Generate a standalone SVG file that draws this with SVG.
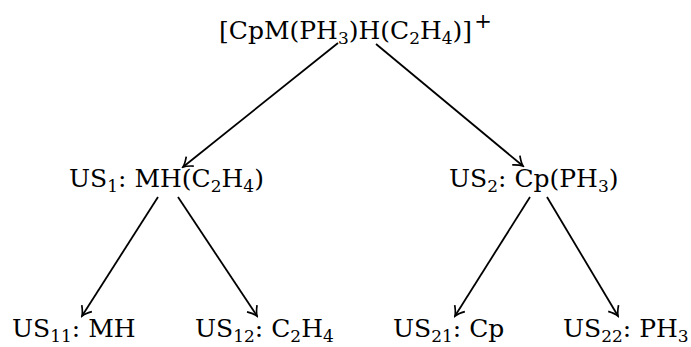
<svg xmlns="http://www.w3.org/2000/svg" width="691" height="347" viewBox="0 0 691 347">
<style>
text{font-family:"DejaVu Serif","Liberation Serif",serif;font-size:25px;fill:#000}
.s{font-size:17px}
.p{font-size:21px}
.c{stroke:#000;stroke-width:1.8;fill:none}
</style>
<defs>
<marker id="ah" viewBox="-12 -7 14 14" refX="0" refY="0" markerWidth="14" markerHeight="14" markerUnits="userSpaceOnUse" orient="auto">
<path d="M-9,-6 Q-3.5,-1.2 0,0 Q-3.5,1.2 -9,6" fill="none" stroke="#000" stroke-width="1.7"/>
</marker>
</defs>
<rect width="691" height="347" fill="#fff"/>
<g id="connectors">
<line class="c" x1="338" y1="43" x2="183" y2="167" marker-end="url(#ah)"/>
<line class="c" x1="376" y1="44" x2="523" y2="166" marker-end="url(#ah)"/>
<line class="c" x1="158" y1="197" x2="82" y2="316" marker-end="url(#ah)"/>
<line class="c" x1="178" y1="197" x2="257" y2="316" marker-end="url(#ah)"/>
<line class="c" x1="530" y1="197" x2="455" y2="316" marker-end="url(#ah)"/>
<line class="c" x1="547" y1="197" x2="618" y2="316" marker-end="url(#ah)"/>
</g>
<g id="root"><text x="219" y="39">[CpM(PH<tspan class="s" dy="5">3</tspan><tspan dy="-5">)H(C</tspan><tspan class="s" dy="5">2</tspan><tspan dy="-5">H</tspan><tspan class="s" dy="5">4</tspan><tspan dy="-5">)]</tspan><tspan class="p" dx="2" dy="-11">+</tspan></text></g>
<g id="us1"><text x="69" y="187">US<tspan class="s" dy="5">1</tspan><tspan dy="-5">: MH(C</tspan><tspan class="s" dy="5">2</tspan><tspan dy="-5">H</tspan><tspan class="s" dy="5">4</tspan><tspan dy="-5">)</tspan></text></g>
<g id="us2"><text x="449" y="187">US<tspan class="s" dy="5">2</tspan><tspan dy="-5">: Cp(PH</tspan><tspan class="s" dy="5">3</tspan><tspan dy="-5">)</tspan></text></g>
<g id="us11"><text x="12" y="337">US<tspan class="s" dy="5">11</tspan><tspan dy="-5">: MH</tspan></text></g>
<g id="us12"><text x="195" y="337">US<tspan class="s" dy="5">12</tspan><tspan dy="-5">: C</tspan><tspan class="s" dy="5">2</tspan><tspan dy="-5">H</tspan><tspan class="s" dy="5">4</tspan></text></g>
<g id="us21"><text x="393" y="337">US<tspan class="s" dy="5">21</tspan><tspan dy="-5">: Cp</tspan></text></g>
<g id="us22"><text x="563" y="337">US<tspan class="s" dy="5">22</tspan><tspan dy="-5">: PH</tspan><tspan class="s" dy="5">3</tspan></text></g>
</svg>
